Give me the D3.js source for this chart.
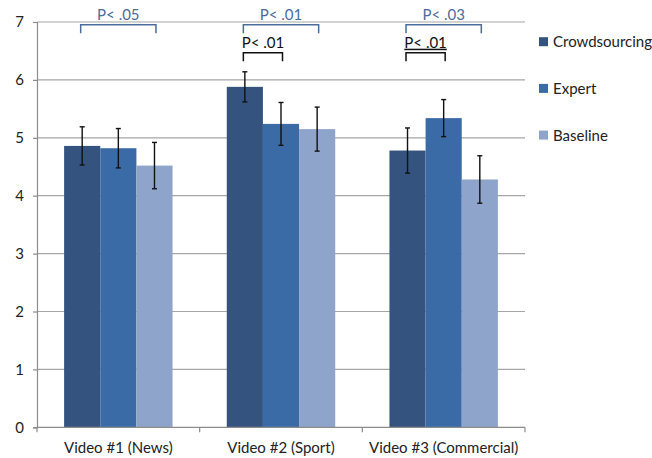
<!DOCTYPE html>
<html>
<head>
<meta charset="utf-8">
<script src="https://cdn.jsdelivr.net/npm/d3@7"></script>
<style>
  html, body { margin: 0; padding: 0; background: #fff; }
  svg { display: block; font-family: Lato, "Open Sans", "Liberation Sans", sans-serif; }
</style>
</head>
<body>
<svg id="chart" width="652" height="458"></svg>
<script>
// Mean ratings per video, one array per condition
const categories = ["Video #1 (News)", "Video #2 (Sport)", "Video #3 (Commercial)"];
const seriesNames = ["Crowdsourcing", "Expert", "Baseline"];
const crowdsourcing = [4.86, 5.88, 4.78];
const expert        = [4.82, 5.24, 5.34];
const baseline      = [4.52, 5.15, 4.28];
// Half-width of each error bar
const crowdsourcingErr = [0.33, 0.26, 0.39];
const expertErr        = [0.34, 0.37, 0.32];
const baselineErr      = [0.40, 0.38, 0.41];
const yTicks = [0, 1, 2, 3, 4, 5, 6, 7];

// Significance brackets: category index, first and last condition, label, tier
const sigCategory = [0, 1, 1, 2, 2];
const sigFrom     = [0, 0, 0, 0, 0];
const sigTo       = [2, 2, 1, 2, 1];
const sigLabel    = ["P< .05", "P< .01", "P< .01", "P< .03", "P< .01"];
const sigTier     = [0, 0, 1, 0, 1];

const values = [crowdsourcing, expert, baseline];
const errors = [crowdsourcingErr, expertErr, baselineErr];
const colors = ["#34537f", "#3b6ba6", "#8fa4cb"];
const tierColors = ["#4a6c9c", "#111111"];

const svg = d3.select("#chart");
const plotLeft = 37, plotRight = 525, plotTop = 22, plotBottom = 427.3;

const x = d3.scaleBand().domain(categories).range([plotLeft, plotRight]).paddingInner(0).paddingOuter(0);
const xs = d3.scaleBand().domain(seriesNames).range([0, x.bandwidth()]).paddingInner(0).paddingOuter(0.75);
const y = d3.scaleLinear().domain([0, 7]).range([plotBottom, plotTop]);

// Horizontal gridlines
svg.append("g").selectAll("line").data(yTicks.filter(d => d > 0)).join("line")
  .attr("x1", plotLeft).attr("x2", plotRight)
  .attr("y1", d => y(d)).attr("y2", d => y(d))
  .attr("stroke", "#a6a6a6").attr("stroke-width", 1.2);

// Y axis
const yAxis = svg.append("g").attr("transform", `translate(${plotLeft},0)`)
  .call(d3.axisLeft(y).tickValues(yTicks).tickSize(4).tickPadding(9).tickFormat(d3.format("d")));
yAxis.select(".domain").attr("stroke", "#8c8c8c").attr("stroke-width", 1.2);
yAxis.selectAll(".tick line").attr("stroke", "#8c8c8c").attr("stroke-width", 1.2);
yAxis.selectAll(".tick text").attr("font-size", 15).attr("fill", "#222").attr("font-family", "Lato, sans-serif");

// Bars
const groups = svg.append("g").selectAll("g").data(categories).join("g")
  .attr("transform", d => `translate(${x(d)},0)`);

groups.each(function(cat, ci) {
  const g = d3.select(this);
  seriesNames.forEach((s, si) => {
    const v = values[si][ci];
    g.append("rect")
      .attr("x", xs(s)).attr("width", xs.bandwidth())
      .attr("y", y(v)).attr("height", y(0) - y(v))
      .attr("fill", colors[si]);
  });
  // Error bars
  seriesNames.forEach((s, si) => {
    const v = values[si][ci], e = errors[si][ci];
    const cx = xs(s) + xs.bandwidth() / 2;
    const eb = g.append("g").attr("stroke", "#111").attr("stroke-width", 1.4);
    eb.append("line").attr("x1", cx).attr("x2", cx).attr("y1", y(v + e)).attr("y2", y(v - e));
    eb.append("line").attr("x1", cx - 2.5).attr("x2", cx + 2.5).attr("y1", y(v + e)).attr("y2", y(v + e));
    eb.append("line").attr("x1", cx - 2.5).attr("x2", cx + 2.5).attr("y1", y(v - e)).attr("y2", y(v - e));
  });
});

// X axis
const xAxisG = svg.append("g").attr("transform", `translate(0,${plotBottom})`);
xAxisG.append("line").attr("x1", plotLeft).attr("x2", plotRight).attr("y1", 0).attr("y2", 0)
  .attr("stroke", "#8c8c8c").attr("stroke-width", 1.2);
const boundaries = categories.map(c => x(c)).concat([plotRight]);
xAxisG.selectAll("line.tick").data(boundaries).join("line").attr("class", "tick")
  .attr("x1", d => d).attr("x2", d => d).attr("y1", 0).attr("y2", 5)
  .attr("stroke", "#8c8c8c").attr("stroke-width", 1.2);
xAxisG.selectAll("text").data(categories).join("text")
  .attr("x", d => x(d) + x.bandwidth() / 2).attr("y", 25.5)
  .attr("text-anchor", "middle").attr("font-size", 15).attr("fill", "#222")
  .text(d => d);

// Significance brackets
const tierTop = [24.7, 52.7], legLen = 8.6;
sigLabel.forEach((lab, i) => {
  const cat = categories[sigCategory[i]];
  const x1 = x(cat) + xs(seriesNames[sigFrom[i]]) + xs.bandwidth() / 2 - 1.5;
  const x2 = x(cat) + xs(seriesNames[sigTo[i]]) + xs.bandwidth() / 2 + 1.5;
  const ty = tierTop[sigTier[i]];
  const col = tierColors[sigTier[i]];
  svg.append("path")
    .attr("d", `M${x1},${ty + legLen}V${ty}H${x2}V${ty + legLen}`)
    .attr("fill", "none").attr("stroke", col).attr("stroke-width", 1.5);
  const t = svg.append("text")
    .attr("x", (x1 + x2) / 2).attr("y", ty - 5)
    .attr("text-anchor", "middle").attr("font-size", 15).attr("fill", col)
    .text(lab);
  if (sigCategory[i] === 2 && sigTier[i] === 1) t.attr("text-decoration", "underline");
});

// Legend
const legend = svg.append("g");
seriesNames.forEach((s, i) => {
  const cy = 41.7 + i * 46.7;
  legend.append("rect").attr("x", 539).attr("y", cy - 4.5).attr("width", 9).attr("height", 9).attr("fill", colors[i]);
  legend.append("text").attr("x", 553).attr("y", cy + 5.5).attr("font-size", 15).attr("fill", "#222").text(s);
});
</script>
</body>
</html>
